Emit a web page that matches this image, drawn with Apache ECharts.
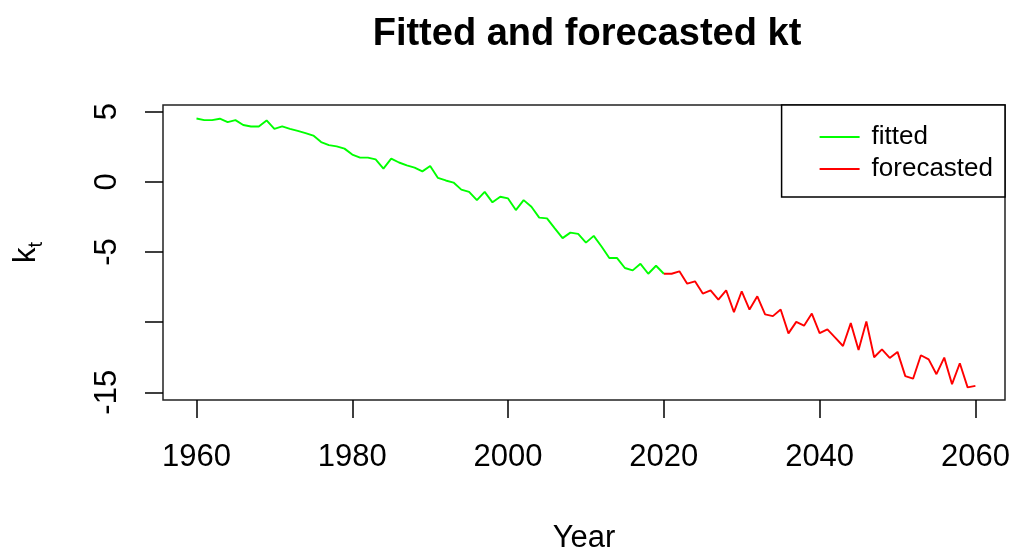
<!DOCTYPE html>
<html>
<head>
<meta charset="utf-8">
<script src="https://cdn.jsdelivr.net/npm/echarts@6/dist/echarts.min.js"></script>
<style>
html,body{margin:0;padding:0;background:#fff;}
#chart{width:1013px;height:548px;}
</style>
</head>
<body>
<div id="chart"></div>
<script>
// ---- data ----
const fittedYears = [1960,1961,1962,1963,1964,1965,1966,1967,1968,1969,1970,1971,1972,1973,1974,1975,1976,1977,1978,1979,
  1980,1981,1982,1983,1984,1985,1986,1987,1988,1989,1990,1991,1992,1993,1994,1995,1996,1997,1998,1999,
  2000,2001,2002,2003,2004,2005,2006,2007,2008,2009,2010,2011,2012,2013,2014,2015,2016,2017,2018,2019,2020];
const fittedValues = [4.52,4.40,4.40,4.50,4.26,4.40,4.05,3.95,3.95,4.38,3.78,3.95,3.78,3.64,3.48,3.30,2.84,2.62,2.53,2.37,
  1.95,1.73,1.73,1.60,0.95,1.66,1.38,1.18,1.02,0.75,1.13,0.28,0.10,-0.05,-0.55,-0.71,-1.30,-0.71,-1.46,-1.06,
  -1.18,-2.01,-1.30,-1.77,-2.55,-2.60,-3.31,-4.01,-3.62,-3.71,-4.33,-3.85,-4.61,-5.43,-5.43,-6.14,-6.31,-5.84,-6.55,-5.98,-6.55];
const forecastYears = [2020,2021,2022,2023,2024,2025,2026,2027,2028,2029,2030,2031,2032,2033,2034,2035,2036,2037,2038,2039,
  2040,2041,2042,2043,2044,2045,2046,2047,2048,2049,2050,2051,2052,2053,2054,2055,2056,2057,2058,2059,2060];
const forecastValues = [-6.55,-6.55,-6.38,-7.26,-7.09,-7.96,-7.73,-8.39,-7.73,-9.29,-7.80,-9.10,-8.16,-9.45,-9.57,-9.10,-10.80,-9.98,-10.25,-9.39,
  -10.78,-10.52,-11.10,-11.70,-10.07,-11.99,-9.95,-12.50,-11.94,-12.55,-12.12,-13.85,-14.03,-12.36,-12.65,-13.71,-12.53,-14.42,-12.93,-14.65,-14.54];
const xTicks = [1960,1980,2000,2020,2040,2060];
const yTicks = [-15,-10,-5,0,5];
const yLabels = [-15,-5,0,5];

const fittedData = fittedYears.map((y,i)=>[y,fittedValues[i]]);
const forecastData = forecastYears.map((y,i)=>[y,forecastValues[i]]);

const FONT = '"Liberation Sans", Arial, sans-serif';
const chart = echarts.init(document.getElementById('chart'), null, {renderer:'canvas'});
chart.setOption({
  animation:false,
  backgroundColor:'#fff',
  title:{
    text:'Fitted and forecasted kt',
    left:582, top:11, textAlign:'center',
    textStyle:{fontFamily:FONT,fontSize:38,fontWeight:'bold',color:'#000'}
  },
  legend:{
    right:8, top:105, orient:'vertical',
    backgroundColor:'#fff', borderColor:'#000', borderWidth:1.5, borderRadius:0,
    padding:[19,12,15,38], itemGap:6,
    itemWidth:40, itemHeight:2, icon:'rect',
    textStyle:{fontFamily:FONT,fontSize:26,color:'#000',padding:[0,0,0,7]},
    data:['fitted','forecasted']
  },
  grid:{left:163, top:105, right:8, bottom:148, show:true, borderColor:'#222', borderWidth:1.5,
        backgroundColor:'transparent', containLabel:false, outerBoundsMode:'none'},
  xAxis:{
    type:'value', min:1955.7, max:2063.8,
    name:'Year', nameLocation:'middle', nameGap:123,
    nameTextStyle:{fontFamily:FONT,fontSize:31,color:'#000'},
    axisLine:{show:false, onZero:false},
    splitLine:{show:false},
    axisTick:{show:true, inside:false, length:18, lineStyle:{color:'#000',width:1.5}, customValues:xTicks},
    axisLabel:{fontFamily:FONT,fontSize:31,color:'#000',margin:42, customValues:xTicks, formatter:v=>String(v)}
  },
  yAxis:{
    type:'value', min:-15.55, max:5.48,
    name:'{k|k}{t|t}', nameLocation:'middle', nameGap:117, nameRotate:90,
    nameTextStyle:{rich:{
      k:{fontFamily:FONT,fontSize:31,color:'#000',lineHeight:40,verticalAlign:'middle'},
      t:{fontFamily:FONT,fontSize:20,color:'#000',lineHeight:20,verticalAlign:'bottom'}
    }},
    axisLine:{show:false, onZero:false},
    splitLine:{show:false},
    axisTick:{show:true, inside:false, length:18, lineStyle:{color:'#000',width:1.5}, customValues:yTicks},
    axisLabel:{fontFamily:FONT,fontSize:31,color:'#000',margin:40,rotate:90, customValues:yLabels, formatter:v=>String(v)}
  },
  series:[
    {name:'fitted', type:'line', data:fittedData, showSymbol:false, symbol:'none',
     lineStyle:{color:'#00ff00',width:1.9}, itemStyle:{color:'#00ff00'}},
    {name:'forecasted', type:'line', data:forecastData, showSymbol:false, symbol:'none',
     lineStyle:{color:'#ff0000',width:1.9}, itemStyle:{color:'#ff0000'}}
  ]
});
</script>
</body>
</html>
